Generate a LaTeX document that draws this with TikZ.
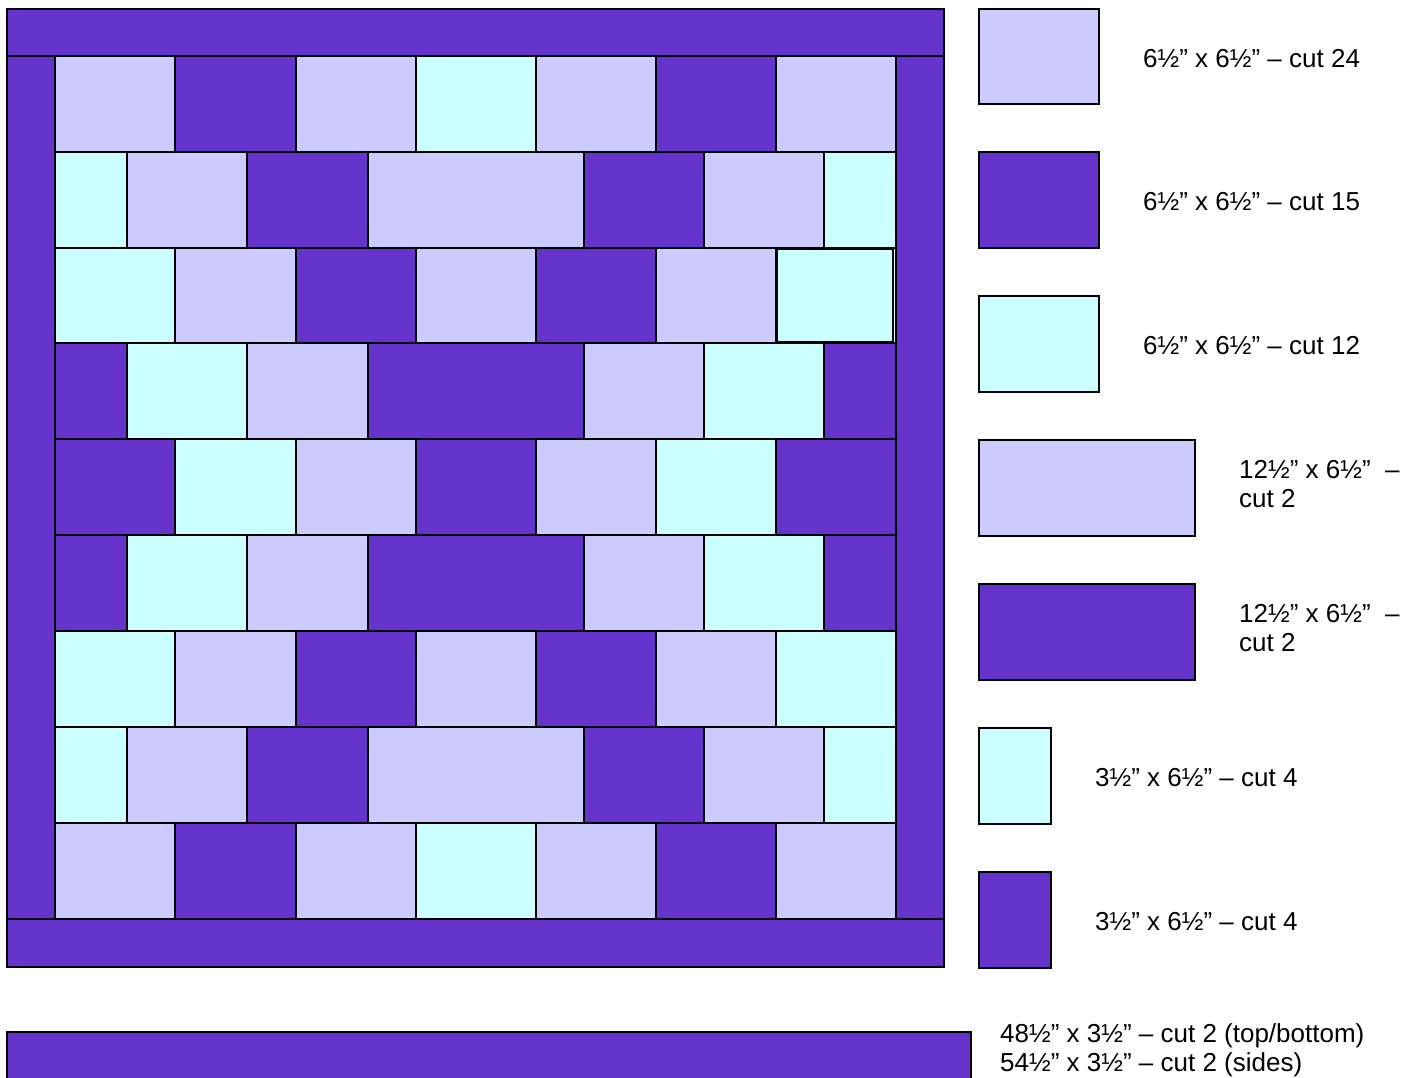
\documentclass[tikz,border=0pt]{standalone}
\usepackage{fontspec}
\setmainfont{Liberation Sans}
\definecolor{qd}{HTML}{6633CC}
\definecolor{ql}{HTML}{CCCCFF}
\definecolor{qc}{HTML}{CCFFFF}
\tikzset{
  piece/.style={draw=black,line width=1.4pt},
  lbl/.style={anchor=west,inner sep=0pt,align=left,font=\fontsize{26}{29}\selectfont}
}
\newcommand\qrow[3]{\foreach \xa/\xb/\cc in {#3} {\draw[piece,fill=\cc] (\xa,#1) rectangle (\xb,#2);}}
\begin{document}
\begin{tikzpicture}[x=1pt,y=-1pt]
\useasboundingbox (0,0) rectangle (1418,1078);
% borders
\draw[piece,fill=qd] (7,9) rectangle (944,56);
\draw[piece,fill=qd] (7,56) rectangle (55,919);
\draw[piece,fill=qd] (896,56) rectangle (944,919);
\draw[piece,fill=qd] (7,919) rectangle (944,967);
% rows
\qrow{56}{152}{55/175/ql,175/296/qd,296/416/ql,416/536/qc,536/656/ql,656/776/qd,776/896/ql}
\qrow{152}{248}{55/127/qc,127/247/ql,247/368/qd,368/584/ql,584/704/qd,704/824/ql,824/896/qc}
\qrow{248}{343}{55/175/qc,175/296/ql,296/416/qd,416/536/ql,536/656/qd,656/776/ql,776/896/qc}
\draw[piece] (777,249) rectangle (893,342);
\qrow{343}{439}{55/127/qd,127/247/qc,247/368/ql,368/584/qd,584/704/ql,704/824/qc,824/896/qd}
\qrow{439}{535}{55/175/qd,175/296/qc,296/416/ql,416/536/qd,536/656/ql,656/776/qc,776/896/qd}
\qrow{535}{631}{55/127/qd,127/247/qc,247/368/ql,368/584/qd,584/704/ql,704/824/qc,824/896/qd}
\qrow{631}{727}{55/175/qc,175/296/ql,296/416/qd,416/536/ql,536/656/qd,656/776/ql,776/896/qc}
\qrow{727}{823}{55/127/qc,127/247/ql,247/368/qd,368/584/ql,584/704/qd,704/824/ql,824/896/qc}
\qrow{823}{919}{55/175/ql,175/296/qd,296/416/ql,416/536/qc,536/656/ql,656/776/qd,776/896/ql}
% legend swatches
\draw[piece,fill=ql] (979,9) rectangle (1099,104);
\draw[piece,fill=qd] (979,152) rectangle (1099,248);
\draw[piece,fill=qc] (979,296) rectangle (1099,392);
\draw[piece,fill=ql] (979,440) rectangle (1195,536);
\draw[piece,fill=qd] (979,584) rectangle (1195,680);
\draw[piece,fill=qc] (979,728) rectangle (1051,824);
\draw[piece,fill=qd] (979,872) rectangle (1051,968);
\draw[piece,fill=qd] (7,1032) rectangle (971,1090);
% labels
\node[lbl] (t1) at (1143,59) {6½” x 6½” – cut 24};
\node[lbl] (t2) at (1143,202) {6½” x 6½” – cut 15};
\node[lbl] (t3) at (1143,346) {6½” x 6½” – cut 12};
\node[lbl] (t4) at (1239,484) {12½” x 6½”\ \ –\\cut 2};
\node[lbl] (t5) at (1239,628) {12½” x 6½”\ \ –\\cut 2};
\node[lbl] (t6) at (1095,778) {3½” x 6½” – cut 4};
\node[lbl] (t7) at (1095,922) {3½” x 6½” – cut 4};
\node[lbl] (t8) at (1000,1050) {48½” x 3½” – cut 2 (top/bottom)\\54½” x 3½” – cut 2 (sides)};
\end{tikzpicture}
\end{document}
